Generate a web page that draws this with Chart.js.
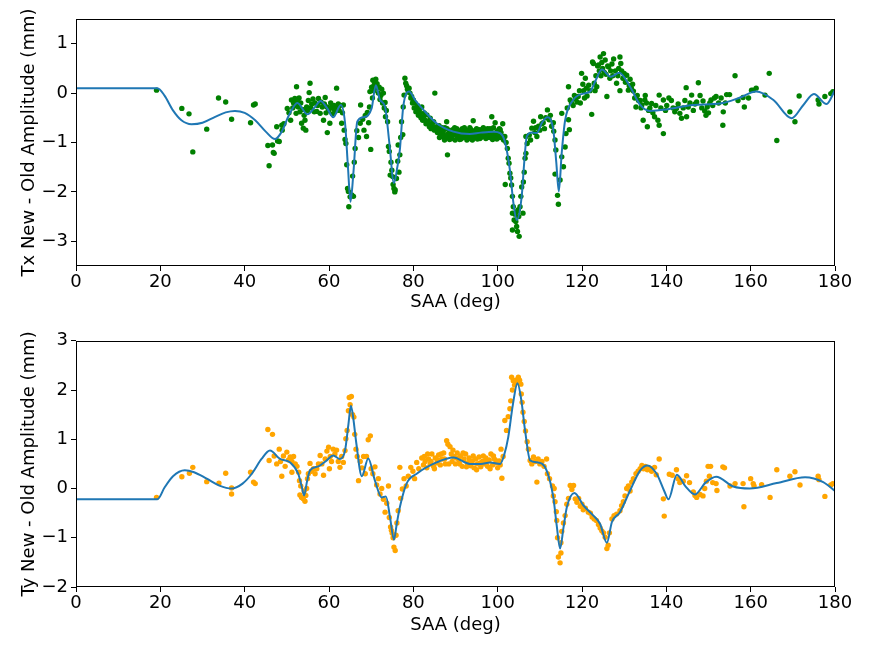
<!DOCTYPE html>
<html>
<head>
<meta charset="utf-8">
<script src="https://cdn.jsdelivr.net/npm/chart.js@4.4.1/dist/chart.umd.min.js"></script>
<style>
  html, body { margin: 0; padding: 0; background: #fff; }
  #wrap { position: relative; width: 872px; height: 654px; }
  canvas { position: absolute; left: 0; }
  #c1 { top: 0; }
  #c2 { top: 327px; }
</style>
</head>
<body>
<div id="wrap">
  <canvas id="c1" width="872" height="327"></canvas>
  <canvas id="c2" width="872" height="327"></canvas>
</div>
<script>
// ---------------- DATA ----------------
const xTicks = [0, 20, 40, 60, 80, 100, 120, 140, 160, 180];
const txTicks = [-3, -2, -1, 0, 1];
const tyTicks = [-2, -1, 0, 1, 2, 3];

// Tx fitted curve [SAA, value]
const txFit = [[0,0.1],[19.3,0.1],[21,-0.05],[23,-0.35],[25,-0.55],[27.4,-0.63],[30,-0.6],[33,-0.48],[35.5,-0.39],[37.7,-0.36],[40,-0.4],[42.5,-0.55],[45,-0.78],[47.2,-0.93],[48.8,-0.78],[50.5,-0.45],[52.5,-0.2],[54.9,-0.43],[56.5,-0.3],[58,-0.16],[59.5,-0.3],[61,-0.49],[62.8,-0.24],[63.8,-0.6],[64.5,-1.5],[65.1,-2.2],[65.8,-1.6],[66.7,-0.58],[68.1,-0.49],[70.1,-0.31],[71.1,0.16],[72.1,-0.14],[73.3,-0.28],[74.3,-1.0],[75.4,-1.82],[76.2,-1.5],[76.8,-1.15],[77.6,-0.28],[79.0,0.03],[80.5,-0.15],[82.4,-0.34],[85.5,-0.61],[89.5,-0.78],[93.4,-0.83],[96,-0.8],[99,-0.78],[100.6,-0.81],[101.7,-0.98],[102.9,-1.56],[103.7,-2.2],[104.5,-2.57],[105.7,-2.09],[106.3,-1.4],[106.9,-0.88],[108.1,-0.8],[109.3,-0.81],[110.5,-0.6],[111.8,-0.49],[113.2,-0.75],[113.9,-1.4],[114.5,-1.99],[115.2,-1.2],[116.0,-0.55],[117.9,-0.14],[120.3,-0.01],[121.9,0.03],[123.2,0.25],[124.7,0.48],[126.8,0.33],[128.8,0.41],[131.4,0.13],[133.8,-0.24],[136.1,-0.36],[140.1,-0.33],[146.4,-0.24],[152.7,-0.21],[157.5,-0.09],[161.3,0.03],[165.4,-0.14],[169.7,-0.51],[172.5,-0.24],[175.0,-0.02],[178.0,-0.22],[180,0.06]];

// Ty fitted curve [SAA, value]
const tyFit = [[0,-0.22],[19.3,-0.22],[21,0.02],[23,0.25],[25.8,0.37],[28,0.33],[31,0.2],[34,0.06],[36.9,0.0],[39.5,0.1],[41.7,0.3],[44,0.6],[46.0,0.77],[48.4,0.6],[50.8,0.53],[52.7,0.3],[53.5,0.05],[54.1,-0.14],[54.8,0.15],[55.5,0.37],[57.5,0.45],[59.3,0.56],[61.0,0.67],[62.6,0.6],[63.8,0.77],[64.6,1.3],[65.2,1.68],[65.8,1.4],[66.4,0.97],[67.8,0.25],[69.3,0.61],[70.9,0.16],[72.5,-0.18],[73.5,-0.16],[74.5,-0.6],[75.4,-1.04],[76.1,-0.7],[76.8,-0.38],[78.4,0.1],[80.8,0.3],[85.5,0.53],[89.5,0.63],[93.4,0.5],[96,0.5],[98.2,0.53],[100.6,0.5],[101.6,0.7],[102.5,1.04],[103.6,1.7],[104.7,2.14],[105.6,1.8],[106.5,1.18],[107.7,0.57],[109.6,0.53],[111.6,0.37],[113.2,-0.18],[114.0,-0.75],[114.8,-1.22],[115.6,-0.8],[116.4,-0.38],[118.2,-0.09],[120.3,-0.34],[122.7,-0.55],[124.3,-0.72],[125.9,-1.1],[127.1,-0.68],[129.0,-0.48],[131.4,-0.04],[133.8,0.37],[135.5,0.47],[137.7,0.3],[139.5,-0.05],[140.5,-0.22],[142.5,0.28],[144.5,0.05],[146.8,-0.12],[149.3,0.12],[151.8,0.24],[155.9,0.04],[159.8,0.0],[166.2,0.11],[172.9,0.23],[177.2,0.13],[180,-0.05]];

// Tx measured points [SAA, value]
const txPoints = [[19.1,0.06],[25.1,-0.31],[26.8,-0.42],[27.7,-1.19],[31.0,-0.73],[33.8,-0.1],[35.5,-0.18],[36.9,-0.53],[41.4,-0.6],[42.1,-0.24],[42.5,-0.22],[45.5,-1.06],[45.8,-1.47],[46.6,-1.05],[46.8,-1.2],[47.0,-1.22],[47.6,-0.68],[47.8,-0.97],[48.2,-0.98],[48.8,-0.65],[48.9,-0.75],[49.3,-0.62],
[50.1,-0.31],[50.5,-0.4],[50.9,-0.55],[51.1,-0.14],[51.4,-0.3],[51.6,-0.2],[51.9,-0.11],[52.1,-0.25],[52.3,0.13],[52.2,-0.41],[52.5,-0.15],[52.7,-0.28],[52.9,-0.1],[53.1,-0.38],[53.3,-0.2],[53.5,-0.61],[53.7,-0.33],[53.9,-0.71],[54.1,-0.45],[54.3,-0.55],[54.5,-0.75],[54.7,-0.28],[54.9,-0.35],[55.1,-0.15],[55.3,0.01],[55.5,0.2],[55.7,-0.3],[55.9,-0.22],[56.2,-0.12],[56.5,-0.38],[56.7,-0.2],[57.1,-0.37],[57.3,-0.25],[57.5,-0.11],[57.9,-0.41],[58.1,-0.18],[58.4,-0.28],[58.7,-0.55],[58.9,-0.22],[59.1,-0.09],[59.3,-0.4],[59.5,-0.28],[59.6,-0.8],[59.9,-0.35],[60.2,-0.61],[60.4,-0.2],[60.6,-0.28],[60.8,-0.42],[61.0,-0.31],[61.2,-0.25],[61.4,-0.38],[61.8,0.1],[62.0,-0.3],[62.2,-0.22],[62.4,-0.35],[62.6,-0.25],[63.0,-0.61],[63.2,-0.4],[63.4,-0.24],
[63.6,-0.75],[63.8,-0.94],[64.0,-1.02],[64.2,-1.45],[64.4,-1.93],[64.6,-1.99],[64.7,-2.3],[65.0,-2.1],[65.4,-2.06],[65.6,-1.68],[65.8,-2.09],[66.0,-1.4],[66.2,-1.12],[66.6,-0.76],[67.0,-0.9],[67.4,-0.61],[67.5,-0.24],
[68.0,-0.53],[68.3,-0.75],[68.6,-0.45],[68.9,-0.88],[69.1,-0.39],[69.4,-0.6],[69.6,-0.28],[69.7,0.03],[69.9,-1.14],[70.1,0.12],[70.3,-0.1],[70.4,0.26],[70.6,0.05],[70.7,0.16],[70.9,0.22],[71.1,0.28],[71.3,0.1],[71.4,0.19],[71.7,0.0],[71.9,0.12],[72.1,-0.13],[72.3,-0.05],[72.5,0.08],[72.7,-0.2],[72.9,0.0],[73.1,-0.3],[73.3,-0.19],[73.4,-0.48],[73.6,-0.35],[73.9,-0.58],[74.1,-1.08],[74.3,-1.18],[74.5,-1.66],[74.7,-1.4],[74.9,-1.56],[75.1,-1.69],[75.2,-1.85],[75.4,-1.93],[75.6,-2.0],[75.7,-1.96],[76.0,-1.73],[76.3,-1.38],[76.4,-1.05],[76.6,-1.6],[76.8,-1.25],[77.0,-0.9],[77.2,-0.58],[77.5,-0.84],[77.6,-0.28],[77.8,-0.04],[78.0,0.3],[78.2,0.2],[78.4,0.15],[78.6,0.08],[78.8,0.02],[79.0,0.1],[79.2,0.0],[79.4,-0.1],[79.6,-0.07],[79.8,-0.2],[80.0,-0.14],
[80.2,-0.3],[80.4,-0.2],[80.6,-0.38],[80.8,-0.31],[81.0,-0.25],[81.2,-0.45],[81.4,-0.35],[81.6,-0.41],[81.8,-0.5],[82.0,-0.28],[82.2,-0.55],[82.4,-0.48],[82.6,-0.4],[82.8,-0.55],[83.0,-0.62],[83.2,-0.44],[83.4,-0.58],[83.6,-0.61],[83.8,-0.68],[84.0,-0.51],[84.2,-0.72],[84.4,-0.65],[84.6,-0.6],[84.8,-0.58],[85.1,0.0],[85.0,-0.75],[85.3,-0.7],[85.5,-0.68],[85.7,-0.8],[85.9,-0.75],[86.1,-0.66],[86.3,-0.82],[86.5,-0.72],[86.7,-0.88],[86.9,-0.78],[87.1,-0.78],[87.3,-0.85],[87.5,-0.7],[87.7,-0.9],[87.9,-0.58],[88.1,-1.25],[88.3,-0.82],[88.5,-0.76],[88.7,-0.88],[88.9,-0.8],[89.1,-0.92],[89.3,-0.74],[89.5,-0.85],[89.7,-0.78],[89.9,-0.95],
[90.1,-0.82],[90.3,-0.72],[90.5,-0.9],[90.7,-0.8],[90.9,-0.86],[91.1,-0.76],[91.3,-0.93],[91.5,-0.84],[91.7,-0.78],[91.9,-0.9],[92.1,-0.7],[92.3,-0.85],[92.5,-0.8],[92.7,-0.95],[92.9,-0.75],[93.1,-0.88],[93.3,-0.82],[93.5,-0.92],[93.7,-0.74],[93.9,-0.86],[94.1,-0.8],[94.2,-0.56],[94.4,-0.9],[94.6,-0.76],[94.8,-0.84],[95.0,-0.72],[95.2,-0.93],[95.4,-0.8],[95.6,-0.86],[95.8,-0.74],[96.0,-0.9],[96.2,-0.78],[96.4,-0.83],[96.6,-0.7],[96.8,-0.88],[97.0,-0.76],[97.2,-0.92],[97.4,-0.8],[97.6,-0.72],[97.8,-0.86],[98.0,-0.78],[98.2,-0.9],[98.4,-0.74],[98.6,-0.48],[98.8,-0.84],[99.0,-0.7],[99.2,-0.88],[99.4,-0.6],[99.6,-0.8],[99.8,-0.93],[100.0,-0.76],[100.2,-0.85],[100.4,-0.72],[100.6,-0.9],[100.8,-0.8],[101.0,-0.88],[101.2,-0.62],[101.4,-0.95],
[86.2,-0.9],[86.8,-0.7],[87.4,-0.95],[88.0,-0.72],[88.6,-0.94],[89.2,-0.82],[89.8,-0.7],[90.4,-0.84],[91.0,-0.94],[91.6,-0.72],[92.2,-0.88],[92.8,-0.78],[93.4,-0.7],[94.0,-0.95],[94.6,-0.88],[95.2,-0.78],[95.8,-0.92],[96.4,-0.74],[97.0,-0.85],[97.6,-0.9],[98.2,-0.72],[98.8,-0.94],[99.4,-0.82],[100.0,-0.9],[100.6,-0.74],
[101.7,-0.88],[102.0,-1.0],[102.3,-1.12],[102.5,-1.32],[102.7,-1.42],[102.9,-1.62],[101.8,-1.85],[103.1,-1.72],[103.3,-1.86],[103.5,-2.09],[103.5,-2.43],[103.7,-2.3],[103.9,-2.57],[103.5,-2.77],[104.1,-2.45],[104.3,-2.6],[104.5,-2.7],[104.5,-2.4],[104.7,-2.8],[104.9,-2.36],[105.1,-2.9],[105.0,-2.5],[105.3,-2.3],[105.5,-2.09],[105.7,-1.9],[106.0,-2.43],[106.1,-1.8],[106.3,-1.6],[106.5,-1.32],[106.7,-1.22],[107.0,-1.02],[106.7,-0.88],[107.5,-0.85],[107.8,-0.95],[108.1,-0.71],[108.5,-0.57],[108.8,-0.8],[109.0,-0.7],[109.3,-0.88],[109.7,-0.67],[110.0,-0.75],[110.2,-0.48],[110.5,-0.62],[110.8,-0.6],[111.1,-0.72],[111.4,-0.5],[111.8,-0.34],[112.2,-0.54],[112.5,-0.45],[112.8,-0.67],[113.2,-0.6],[113.3,-0.77],[113.6,-0.95],[113.8,-1.15],[113.6,-1.64],[114.2,-2.07],[114.4,-2.25],[114.8,-1.76],[115.2,-1.29],[115.6,-1.49],[116.0,-1.09],[116.2,-0.82],[115.2,-0.41],[116.5,-0.3],[116.8,-0.54],[117.0,-0.74],
[116.8,0.13],[117.2,-0.14],[117.5,-0.2],[117.9,-0.25],[118.2,-0.05],[118.5,-0.12],[118.8,-0.18],[119.1,-0.07],[119.4,0.05],[119.6,-0.2],[119.9,0.4],[120.2,0.18],[120.4,0.05],[120.6,-0.1],[120.8,0.3],[121.0,0.1],[121.2,-0.06],[121.6,0.16],[121.9,0.05],[122.3,-0.43],[122.5,0.63],[122.7,0.6],[122.9,0.2],[123.1,0.05],[123.3,0.35],[123.5,0.13],[123.7,0.55],[123.9,0.57],[124.1,0.45],[124.3,0.73],[124.5,0.35],[124.7,0.62],[124.9,0.5],[125.1,0.8],[125.3,0.42],[125.5,0.67],[125.7,0.38],[125.9,-0.07],[126.1,0.55],[126.3,0.53],[126.6,0.3],[126.8,0.45],[127.1,0.59],[127.3,0.35],[127.5,0.69],[127.9,0.45],[128.2,0.2],[128.5,0.35],[128.7,0.5],[129.0,0.73],[129.0,0.05],[129.2,0.6],[129.4,0.45],[129.7,0.3],[130.0,0.4],[130.3,0.22],[130.6,0.36],[131.0,0.06],[131.2,0.15],[131.4,0.28],[131.7,0.1],[132.0,0.18],[132.2,0.04],[132.5,-0.1],[132.8,-0.28],[133.1,-0.05],[133.4,-0.15],[133.8,-0.15],[134.0,-0.3],[134.2,-0.24],[134.5,-0.55],[134.9,-0.14],[135.0,-0.05],[135.3,-0.2],[135.5,-0.68],[135.8,-0.35],[136.1,-0.3],[136.5,-0.21],[136.8,-0.4],[137.2,-0.48],[137.5,-0.25],[138.0,-0.55],[138.3,-0.04],[138.3,-0.65],[138.7,-0.3],[139.3,-0.82],[139.3,-0.14],[139.8,-0.35],[140.1,-0.25],[140.6,-0.1],[141.2,-0.15],[141.6,-0.3],[142.0,-0.38],
[142.4,-0.31],[142.8,-0.22],[143.2,-0.41],[143.6,-0.51],[144.0,-0.3],[144.4,-0.15],[144.7,0.11],[144.8,-0.48],[145.2,-0.28],[145.6,-0.2],[146.0,-0.04],[146.4,-0.35],[146.8,-0.22],[147.2,-0.18],[147.6,0.21],[148.0,-0.05],[148.4,-0.3],[148.7,-0.16],[149.1,-0.36],[149.4,-0.45],[149.7,-0.28],[150.0,-0.4],[150.3,-0.2],[150.6,-0.14],[151.0,-0.25],[151.4,-0.1],[151.8,-0.07],[152.4,-0.2],[153.0,-0.1],[153.4,-0.65],[153.5,-0.38],[154.0,-0.2],[154.3,-0.03],[155.0,-0.03],[156.3,0.35],[157.0,-0.15],[158.2,-0.09],[158.5,-0.28],[159.5,-0.1],[160.2,0.06],[160.6,0.06],[161.3,0.1],[163.4,-0.04],[164.4,0.4],[166.2,-0.96],[169.3,-0.38],[170.5,-0.58],[171.5,-0.06],[176.0,-0.14],[176.2,-0.22],[177.6,-0.07],[179.0,-0.01],[179.5,0.03]];

// Ty measured points [SAA, value]
const tyPoints = [[19.1,-0.18],[25.1,0.24],[26.9,0.31],[27.7,0.43],[31.0,0.14],[33.9,0.11],[35.5,0.31],[36.9,0.01],[36.9,-0.11],[41.4,0.33],[42.1,0.13],[42.5,0.1],[45.5,1.2],[46.6,1.1],[45.8,0.57],[47.0,0.66],[47.6,0.5],[48.2,0.8],[48.8,0.25],[48.5,0.55],[49.2,0.66],[49.6,0.45],[50.0,0.74],[50.4,0.58],[50.8,0.64],[51.2,0.33],[51.2,0.55],[51.6,0.65],[52.0,0.5],[52.4,0.45],[52.8,0.33],[53.0,0.16],[53.1,-0.13],[53.3,0.05],[53.5,-0.18],[53.9,-0.21],[54.1,-0.05],[54.3,-0.26],[54.5,-0.14],[54.7,0.0],[54.9,0.2],[55.1,0.3],[55.5,0.51],[55.8,0.35],[56.3,0.4],[56.7,0.3],[57.1,0.4],[57.5,0.5],[57.9,0.67],[58.3,0.5],[58.7,0.27],[59.1,0.6],[59.5,0.76],[59.9,0.84],[60.1,0.4],[60.3,0.65],[60.6,0.55],[61.0,0.8],[61.4,0.7],[61.8,0.78],[62.2,0.55],[62.6,0.43],[63.0,0.65],[63.4,0.53],[63.8,0.77],[64.0,1.01],[64.3,1.18],[64.6,1.58],[64.8,1.85],[65.0,1.7],[65.3,1.87],[65.6,1.5],[65.9,1.45],[66.1,1.1],[66.4,0.8],[66.7,0.65],[67.0,0.16],[67.4,0.55],[67.8,0.42],[68.2,0.65],[68.6,0.3],[68.9,0.65],[69.3,0.99],[69.8,1.07],[70.0,0.4],[70.4,0.3],[70.9,0.44],[71.3,0.07],[71.7,0.2],[72.1,-0.11],[72.5,0.0],[72.9,-0.22],[73.3,-0.48],[73.7,-0.3],[74.1,0.05],[74.3,-0.59],[74.6,-0.78],[74.8,-0.85],[75.0,-0.91],[75.2,-1.0],[75.4,-1.19],[75.7,-1.26],[75.9,-0.95],[76.1,-0.7],[76.4,-0.45],[76.8,0.43],[77.0,-0.2],[77.4,-0.01],[77.8,0.2],[78.3,0.05],[78.8,0.25],[79.4,0.43],[79.9,0.35],[80.3,0.2],[80.8,0.53],[81.3,0.4],[82.0,0.62],
[82.4,0.48],[82.8,0.55],[83.2,0.42],[83.6,0.6],[84.0,0.5],[84.4,0.7],[84.8,0.45],[85.2,0.62],[85.6,0.52],[86.0,0.68],[86.4,0.48],[86.8,0.6],[87.2,0.72],[87.6,0.5],[87.9,0.97],[88.2,0.9],[88.7,0.85],[89.0,0.7],[89.2,0.55],[89.6,0.65],[90.0,0.5],[90.4,0.72],[90.8,0.58],[91.2,0.66],[91.6,0.45],[92.0,0.6],[92.4,0.7],[92.8,0.52],[93.2,0.62],[93.6,0.46],[94.0,0.56],[94.4,0.42],[94.8,0.6],[95.2,0.5],[95.6,0.64],[96.0,0.44],[96.4,0.55],[96.8,0.5],[97.2,0.62],[97.6,0.45],[98.0,0.58],[98.4,0.7],[98.8,0.48],[99.2,0.6],[99.6,0.52],[100.0,0.42],[100.4,0.56],[100.8,0.8],[101.0,0.21],[101.3,0.65],
[82.6,0.65],[83.4,0.7],[84.2,0.55],[85.0,0.4],[85.8,0.58],[86.6,0.7],[87.4,0.6],[88.4,0.5],[89.4,0.78],[90.2,0.62],[91.0,0.5],[91.8,0.72],[92.6,0.44],[93.4,0.55],[94.2,0.66],[95.0,0.38],[95.8,0.52],[96.6,0.66],[97.4,0.55],[98.2,0.4],[99.0,0.66],[99.8,0.56],[100.6,0.48],
[101.7,1.38],[102.1,1.18],[102.5,1.46],[102.9,1.62],[103.1,1.78],[103.3,2.26],[103.5,2.0],[103.7,2.19],[104.0,2.1],[104.3,2.2],[104.6,2.15],[104.9,2.26],[105.2,2.2],[105.5,2.12],[105.6,1.92],[105.8,1.75],[106.0,1.55],[106.3,1.36],[106.6,1.17],[107.0,0.95],[107.3,0.8],[107.7,0.57],[108.1,0.5],[108.5,0.64],[108.9,0.55],[109.3,0.13],[109.6,0.6],[110.0,0.5],[110.5,0.55],[111.0,0.45],[111.6,0.6],[111.8,0.3],[112.3,0.2],[113.0,0.05],[113.2,-0.15],[113.4,0.0],[113.6,-0.27],[113.9,-0.47],[114.0,-0.65],[114.2,-1.0],[114.4,-1.39],[114.8,-1.51],[115.0,-1.31],[115.0,-1.1],[115.2,-0.87],[115.6,-0.7],[116.0,-0.55],[116.4,-0.32],[116.8,-0.2],[117.2,0.06],[117.6,-0.02],[118.0,0.06],[118.4,-0.21],[118.8,-0.28],[119.2,-0.2],[119.6,-0.36],[120.0,-0.32],[120.3,-0.43],[120.8,-0.4],[121.5,-0.48],[122.0,-0.5],[122.4,-0.58],[122.9,-0.62],[123.4,-0.65],[123.9,-0.73],[124.3,-0.8],[124.7,-0.86],[125.1,-0.9],[125.5,-0.99],[125.9,-1.22],[126.2,-1.15],[126.5,-0.9],[127.1,-0.62],[127.6,-0.55],[128.2,-0.52],[129.0,-0.45],[129.4,-0.35],[129.8,-0.27],[130.2,-0.15],[130.6,0.0],[131.0,0.05],[131.4,-0.05],[131.8,0.13],[132.2,0.2],[132.8,0.3],[133.3,0.35],[133.8,0.4],[134.2,0.47],[134.6,0.4],[135.0,0.45],[135.5,0.38],[136.0,0.42],[136.5,0.35],[137.2,0.43],[137.6,0.28],[138.3,0.6],[139.3,-0.21],[139.5,-0.56],
[140.7,0.29],[141.4,0.27],[142.4,0.38],[142.8,0.2],[143.2,0.12],[144.0,0.15],[144.8,0.26],[145.5,0.12],[146.4,-0.07],[146.8,-0.14],[147.2,-0.18],[148.0,-0.12],[148.7,-0.15],[149.1,0.0],[149.5,0.15],[149.9,0.45],[150.5,0.45],[150.2,0.25],[151.0,0.12],[151.8,0.1],[152.0,-0.04],[153.4,0.44],[153.8,0.42],[155.1,0.05],[156.3,0.1],[158.2,0.1],[158.4,-0.37],[160.0,0.2],[160.6,0.1],[160.8,0.05],[162.6,0.08],[164.6,-0.18],[166.2,0.38],[169.3,0.25],[170.5,0.34],[171.7,0.07],[176.0,0.25],[176.2,0.18],[177.6,-0.16],[179.0,0.07],[179.5,0.1]];

// ---------------- CHARTS ----------------
const FONT = "'DejaVu Sans', sans-serif";
const FS = 18;
const toXY = arr => arr.map(p => ({ x: p[0], y: p[1] }));
const fmt = v => String(v).replace('-', '\u2212');

const frame = {
  id: 'frame',
  afterDraw(chart) {
    const { ctx, chartArea: a } = chart;
    ctx.save();
    ctx.strokeStyle = '#000';
    ctx.lineWidth = 1;
    ctx.strokeRect(Math.round(a.left) + 0.5, Math.round(a.top) + 0.5,
                   Math.round(a.right - a.left) - 1, Math.round(a.bottom - a.top) - 1);
    ctx.restore();
  }
};

function makeChart(id, fit, pts, color, ymin, ymax, yticks, ytitle, cfg) {
  return new Chart(document.getElementById(id), {
    type: 'scatter',
    data: {
      datasets: [
        { data: toXY(fit), showLine: true, borderColor: '#1f77b4', borderWidth: 2,
          pointRadius: 0, cubicInterpolationMode: 'monotone', order: 0 },
        { data: toXY(pts), backgroundColor: color, borderWidth: 0,
          pointRadius: 2.7, order: 1 }
      ]
    },
    options: {
      responsive: false, animation: false, devicePixelRatio: 1,
      layout: { padding: { left: 0, right: 37, top: cfg.top, bottom: 0 } },
      plugins: { legend: { display: false }, tooltip: { enabled: false } },
      scales: {
        x: {
          type: 'linear', min: 0, max: 180,
          afterBuildTicks: s => { s.ticks = xTicks.map(v => ({ value: v })); },
          afterFit: s => { s.height = cfg.xh; },
          grid: { drawOnChartArea: false, drawTicks: true, tickLength: 5, tickColor: '#000' },
          border: { display: false },
          ticks: { color: '#000', font: { family: FONT, size: FS }, padding: 1, maxRotation: 0 },
          title: { display: true, text: 'SAA (deg)', color: '#000',
                   font: { family: FONT, size: FS }, padding: { top: 0, bottom: cfg.xtp } }
        },
        y: {
          type: 'linear', min: ymin, max: ymax,
          afterBuildTicks: s => { s.ticks = yticks.map(v => ({ value: v })); },
          afterFit: s => { s.width = 76; },
          grid: { drawOnChartArea: false, drawTicks: true, tickLength: 5, tickColor: '#000' },
          border: { display: false },
          ticks: { color: '#000', font: { family: FONT, size: FS }, padding: 3, callback: v => fmt(v) },
          title: { display: true, text: ytitle, color: '#000',
                   font: { family: FONT, size: FS }, padding: { top: 19, bottom: 0 } }
        }
      }
    },
    plugins: [frame]
  });
}

makeChart('c1', txFit, txPoints, '#008000', -3.5, 1.5, txTicks,
          'Tx New - Old Amplitude (mm)', { top: 19, xh: 61, xtp: 14 });
makeChart('c2', tyFit, tyPoints, '#FFA500', -2, 3, tyTicks,
          'Ty New - Old Amplitude (mm)', { top: 13, xh: 67, xtp: 18 });
</script>
</body>
</html>
